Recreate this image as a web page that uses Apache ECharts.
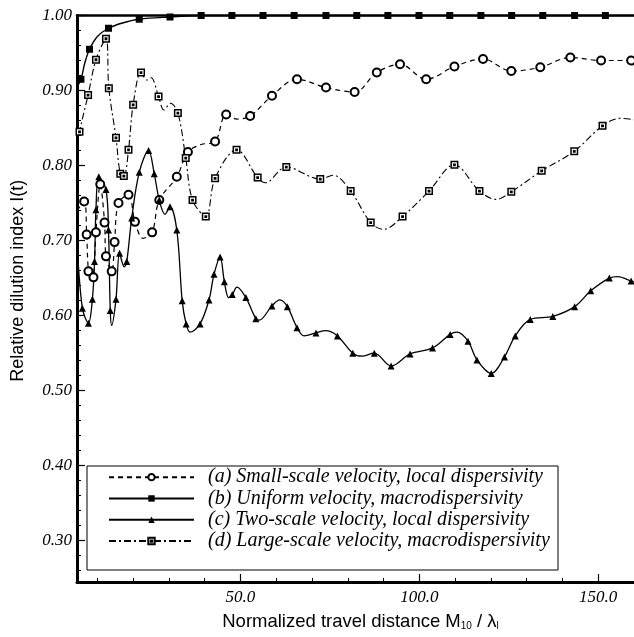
<!DOCTYPE html>
<html><head><meta charset="utf-8">
<script src="https://cdn.jsdelivr.net/npm/echarts@6/dist/echarts.min.js"></script>
<style>html,body{margin:0;padding:0;background:#fff}#c{width:634px;height:637px}</style>
</head><body><div id="c"></div>
<script>
// ---- tick labels ----
const xTickLabels = [50, 100, 150];
const yTickLabels = [0.3, 0.4, 0.5, 0.6, 0.7, 0.8, 0.9, 1.0];
const seriesNames = [
  '(a) Small-scale velocity, local dispersivity',
  '(b) Uniform velocity, macrodispersivity',
  '(c) Two-scale velocity, local dispersivity',
  '(d) Large-scale velocity, macrodispersivity'
];
// ---- (a) small-scale velocity, local dispersivity ----
const aX = [4.3, 6.3, 7.0, 7.5, 8.2, 8.9, 9.6, 10.8, 12.0, 12.4, 14.0, 14.8, 15.9, 18.7, 20.5, 22.8, 25.3, 27.3, 32.2, 35.3, 39.0, 42.9, 46.0, 49.0, 52.7, 58.8, 65.8, 73.9, 81.9, 88.1, 94.6, 101.9, 109.8, 117.8, 125.7, 133.8, 142.2, 150.8, 159.2, 160];
const aY = [0.74, 0.752, 0.708, 0.659, 0.647, 0.651, 0.711, 0.775, 0.724, 0.679, 0.659, 0.698, 0.750, 0.761, 0.725, 0.703, 0.711, 0.754, 0.785, 0.818, 0.828, 0.832, 0.868, 0.862, 0.866, 0.893, 0.915, 0.904, 0.898, 0.924, 0.935, 0.915, 0.932, 0.942, 0.926, 0.931, 0.944, 0.940, 0.940, 0.940];
const aMark = [0,1,1,1,0,1,1,1,1,1,1,1,1,1,1,0,1,1,1,1,0,1,1,0,1,1,1,1,1,1,1,1,1,1,1,1,1,1,1,0];
// ---- (b) uniform velocity, macrodispersivity ----
const bX = [4.3, 5.4, 6.5, 7.8, 10.0, 13.1, 17.0, 21.7, 30.3, 39.0, 47.6, 56.3, 65.0, 73.9, 82.5, 91.2, 99.9, 108.5, 117.2, 125.8, 134.5, 143.4, 152.0, 160];
const bY = [0.905, 0.915, 0.937, 0.955, 0.972, 0.983, 0.990, 0.995, 0.998, 1.0, 1.0, 1.0, 1.0, 1.0, 1.0, 1.0, 1.0, 1.0, 1.0, 1.0, 1.0, 1.0, 1.0, 1.0];
const bMark = [0,1,0,1,0,1,0,1,1,1,1,1,1,1,1,1,1,1,1,1,1,1,1,0];
// ---- (c) two-scale velocity, local dispersivity ----
const cX = [4.3, 5.8, 7.5, 8.6, 9.2, 9.6, 10.4, 12.4, 13.1, 13.6, 14.0, 15.2, 16.2, 17.5, 18.2, 19.6, 21.7, 24.3, 25.9, 27.3, 28.9, 30.3, 32.2, 33.7, 34.8, 35.9, 38.7, 41.2, 42.6, 44.3, 45.5, 46.7, 47.7, 49.0, 51.5, 54.3, 55.2, 58.8, 61.0, 63.1, 65.8, 67.8, 71.1, 73.8, 77.1, 81.4, 83.9, 87.4, 92.1, 97.4, 103.7, 108.6, 110.5, 113.6, 116.1, 120.1, 123.8, 126.8, 131.0, 137.3, 143.4, 147.9, 153.1, 155.5, 159.2, 160];
const cY = [0.70, 0.610, 0.590, 0.622, 0.672, 0.741, 0.785, 0.768, 0.714, 0.607, 0.587, 0.622, 0.683, 0.665, 0.672, 0.730, 0.791, 0.820, 0.789, 0.754, 0.735, 0.745, 0.714, 0.620, 0.589, 0.578, 0.589, 0.621, 0.655, 0.678, 0.645, 0.624, 0.628, 0.638, 0.624, 0.596, 0.594, 0.613, 0.621, 0.612, 0.584, 0.573, 0.577, 0.580, 0.573, 0.550, 0.546, 0.550, 0.533, 0.549, 0.557, 0.575, 0.578, 0.566, 0.541, 0.523, 0.545, 0.573, 0.595, 0.599, 0.612, 0.633, 0.650, 0.652, 0.646, 0.645];
const cMark = [0,1,1,1,1,1,1,1,1,1,0,1,1,0,1,1,1,1,1,1,0,1,1,1,1,0,1,1,1,1,1,0,1,0,1,1,0,1,0,1,1,0,1,0,1,1,0,1,1,1,1,1,0,1,1,1,1,1,1,1,1,1,1,0,1,0];
// ---- (d) large-scale velocity, macrodispersivity ----
const dX = [4.3, 5.0, 7.4, 9.6, 12.4, 13.2, 15.2, 16.4, 17.4, 18.7, 20.0, 22.2, 23.8, 25.0, 27.1, 28.6, 30.4, 32.5, 34.7, 36.6, 40.3, 42.9, 48.9, 54.8, 56.9, 62.8, 72.3, 75.9, 80.8, 86.4, 90.0, 95.3, 102.7, 109.8, 116.8, 121.5, 125.7, 134.2, 143.3, 151.2, 156.2, 160];
const dY = [0.822, 0.845, 0.894, 0.941, 0.969, 0.903, 0.837, 0.789, 0.786, 0.821, 0.881, 0.924, 0.914, 0.917, 0.892, 0.874, 0.883, 0.870, 0.810, 0.754, 0.732, 0.783, 0.821, 0.784, 0.777, 0.798, 0.782, 0.787, 0.766, 0.724, 0.715, 0.732, 0.766, 0.801, 0.766, 0.755, 0.765, 0.793, 0.819, 0.853, 0.863, 0.861];
const dMark = [0,1,1,1,1,1,1,1,1,1,1,1,0,0,1,0,0,1,1,1,1,1,1,1,0,1,1,0,1,1,0,1,1,1,1,0,1,1,1,1,0,0];

function build(xs, ys, marks) {
  return xs.map((x, i) => marks[i] ? [x, ys[i]] : { value: [x, ys[i]], symbol: 'none' });
}
const minorX = [];
for (let v = 10; v <= 160; v += 10) if (v % 50 !== 0) minorX.push(v);
const minorY = [];
for (let k = 13; k <= 49; k++) { if (k % 5 !== 0) minorY.push(k / 50); }

const serif = 'Liberation Serif, Times New Roman, serif';
const sans = 'Liberation Sans, Arial, sans-serif';
const chart = echarts.init(document.getElementById('c'), null, { renderer: 'canvas' });
const XMIN = 4.3, XMAX = 160, YMIN = 0.245, YMAX = 1.0;

chart.setOption({
  animation: false,
  backgroundColor: '#fff',
  grid: { left: 77, right: 0, top: 15.5, bottom: 55, containLabel: false },
  xAxis: [
    { type: 'value', min: XMIN, max: XMAX, position: 'bottom',
      axisLine: { show: true, onZero: false, lineStyle: { color: '#000', width: 3 } },
      axisTick: { show: true, inside: true, length: 8, customValues: xTickLabels, lineStyle: { color: '#000', width: 1.2 } },
      axisLabel: { show: true, customValues: xTickLabels, formatter: v => Number(v).toFixed(1), color: '#000', fontFamily: serif, fontStyle: 'italic', fontSize: 17, margin: 7 },
      splitLine: { show: false },
      name: '{n|Normalized travel distance M}{s|10}{n| / λ}{s|l}',
      nameLocation: 'middle', nameGap: 30,
      nameTextStyle: { padding: [0, 0, 0, 10], rich: { n: { fontFamily: sans, fontSize: 18.5, color: '#000' }, s: { fontFamily: sans, fontSize: 10, color: '#000', verticalAlign: 'bottom', padding: [9, 0, 0, 0] } } }
    },
    { type: 'value', min: XMIN, max: XMAX, position: 'bottom',
      axisLine: { show: false, onZero: false },
      axisTick: { show: true, inside: true, length: 4, customValues: minorX, lineStyle: { color: '#000', width: 1 } },
      axisLabel: { show: false }, splitLine: { show: false } },
    { type: 'value', min: XMIN, max: XMAX, position: 'top',
      axisLine: { show: true, onZero: false, lineStyle: { color: '#000', width: 2.5 } },
      axisTick: { show: false }, axisLabel: { show: false }, splitLine: { show: false } }
  ],
  yAxis: [
    { type: 'value', min: YMIN, max: YMAX, position: 'left',
      axisLine: { show: true, onZero: false, lineStyle: { color: '#000', width: 3 } },
      axisTick: { show: true, inside: true, length: 8, customValues: yTickLabels, lineStyle: { color: '#000', width: 1.2 } },
      axisLabel: { show: true, customValues: yTickLabels, formatter: v => Number(v).toFixed(2), color: '#000', fontFamily: serif, fontStyle: 'italic', fontSize: 17, margin: 5 },
      splitLine: { show: false },
      name: 'Relative dilution index I(t)', nameLocation: 'middle', nameGap: 50,
      nameTextStyle: { fontFamily: sans, fontSize: 18, color: '#000', padding: [0, 0, 0, 36] }
    },
    { type: 'value', min: YMIN, max: YMAX, position: 'left',
      axisLine: { show: false, onZero: false },
      axisTick: { show: true, inside: true, length: 4, customValues: minorY, lineStyle: { color: '#000', width: 1 } },
      axisLabel: { show: false }, splitLine: { show: false } }
  ],
  graphic: { elements: [ { type: 'rect', z: 50, shape: { x: 87, y: 466, width: 471, height: 104 }, style: { fill: '#fff', stroke: '#000', lineWidth: 1 } } ] },
  legend: {
    z: 60, orient: 'vertical', left: 103, top: 461.5, itemWidth: 85, itemHeight: 8, itemGap: 0, padding: 5,
    data: seriesNames,
    textStyle: { fontFamily: serif, fontStyle: 'italic', fontSize: 20, lineHeight: 21.3, color: '#000', padding: [0, 0, 0, 9] },
    selectedMode: false
  },
  series: [
    { name: seriesNames[0], type: 'line', smooth: 0.35, data: build(aX, aY, aMark), showAllSymbol: true,
      symbol: 'circle', symbolSize: 8, itemStyle: { color: '#fff', borderColor: '#000', borderWidth: 2 },
      lineStyle: { color: '#000', width: 1.2, type: [5, 4] }, z: 3, silent: true },
    { name: seriesNames[1], type: 'line', smooth: 0.35, data: build(bX, bY, bMark), showAllSymbol: true,
      symbol: 'rect', symbolSize: 7, itemStyle: { color: '#000' },
      lineStyle: { color: '#000', width: 1.4 }, z: 3, silent: true },
    { name: seriesNames[2], type: 'line', smooth: 0.35, data: build(cX, cY, cMark), showAllSymbol: true,
      symbol: 'triangle', symbolSize: 7, itemStyle: { color: '#000' },
      lineStyle: { color: '#000', width: 1.3 }, z: 3, silent: true },
    { name: seriesNames[3], type: 'line', smooth: 0.35, data: build(dX, dY, dMark), showAllSymbol: true,
      symbol: 'path://M0,0H10V10H0Z M4,4H6V6H4Z', symbolSize: 6.5, itemStyle: { color: '#fff', borderColor: '#000', borderWidth: 1.5 },
      lineStyle: { color: '#000', width: 1.1, type: [7, 3, 2, 3] }, z: 3, silent: true }
  ]
});
</script></body></html>
